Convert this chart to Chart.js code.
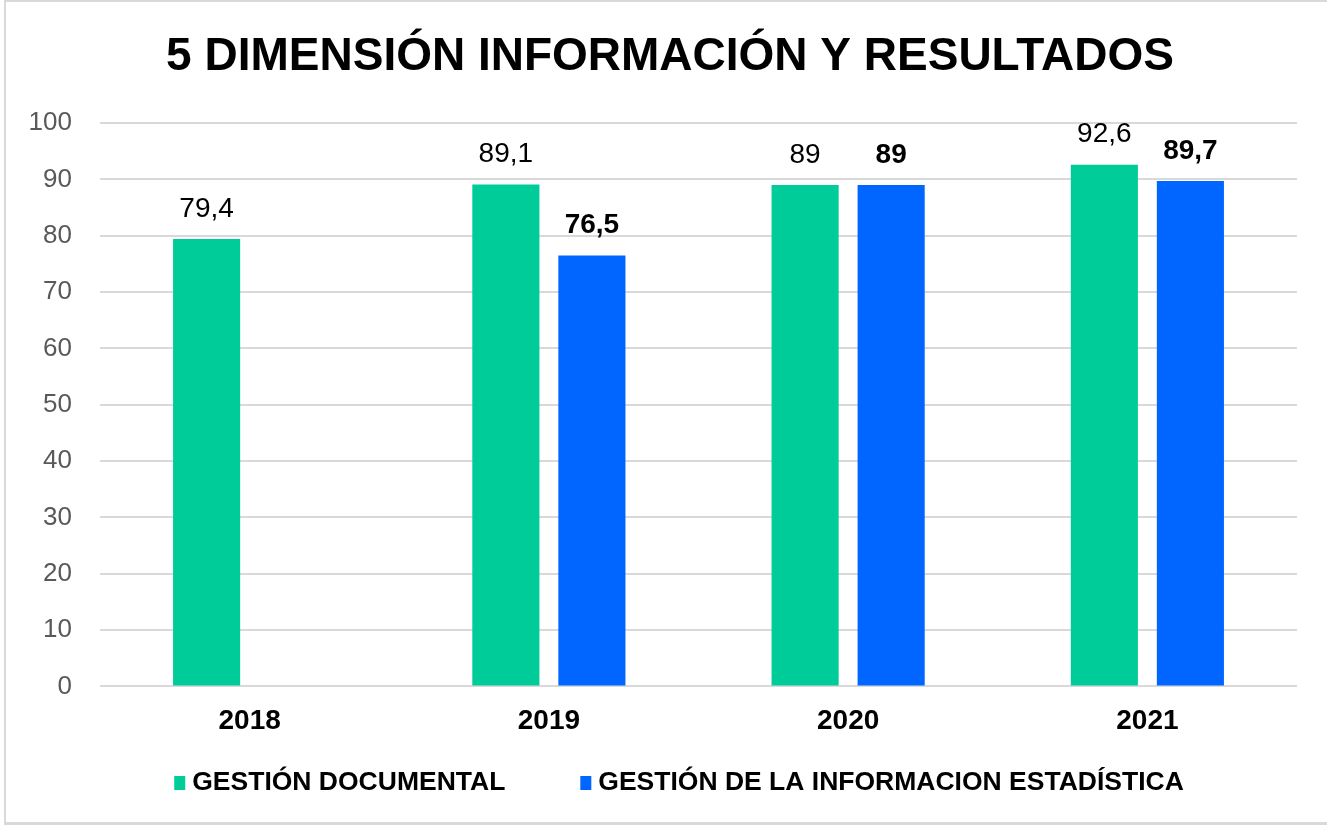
<!DOCTYPE html>
<html>
<head>
<meta charset="utf-8">
<script src="https://cdn.jsdelivr.net/npm/chart.js@4"></script>
<style>
  html, body { margin: 0; padding: 0; background: #fff; }
  #wrap { position: relative; width: 1327px; height: 825px; }
  #frame {
    position: absolute; left: 4px; top: 0; width: 1330px; height: 820px;
    border-top: 2px solid #d9d9d9; border-left: 2px solid #d9d9d9; border-bottom: 3px solid #d9d9d9;
    pointer-events: none;
  }
</style>
</head>
<body>
<div id="wrap">
  <canvas id="chart" width="1327" height="825"></canvas>
  <div id="frame"></div>
</div>
<script>
const years = ['2018', '2019', '2020', '2021']
const gestionDocumental = [79.4, 89.1, 89, 92.6]
const gestionEstadistica = [null, 76.5, 89, 89.7]
const yTicks = [0, 10, 20, 30, 40, 50, 60, 70, 80, 90, 100]

const TITLE = '5 DIMENSIÓN INFORMACIÓN Y RESULTADOS'
const FONT = "'Liberation Sans', Arial, sans-serif"
const PAD = { top: 123, left: 10, right: 30, bottom: 77 }

// etiquetas de valor encima de cada barra
const valueLabels = {
  id: 'valueLabels',
  afterDatasetsDraw(chart) {
    const ctx = chart.ctx
    chart.data.datasets.forEach((ds, i) => {
      const meta = chart.getDatasetMeta(i)
      meta.data.forEach((bar, j) => {
        const v = ds.data[j]
        if (v == null) return
        ctx.save()
        ctx.font = (i === 1 ? 'bold ' : '') + '28px ' + FONT
        ctx.fillStyle = '#000'
        ctx.textAlign = 'center'
        ctx.textBaseline = 'bottom'
        ctx.fillText(String(v).replace('.', ','), bar.x, bar.y - 16)
        ctx.restore()
      })
    })
  },
}

// título y leyenda dibujados a mano
const titleAndLegend = {
  id: 'titleAndLegend',
  afterDraw(chart) {
    const ctx = chart.ctx
    const mid = 670
    ctx.save()
    ctx.fillStyle = '#000'
    ctx.font = 'bold 46px ' + FONT
    ctx.textAlign = 'center'
    ctx.textBaseline = 'middle'
    ctx.fillText(TITLE, mid, 57)

    const ds = chart.data.datasets
    ctx.font = 'bold 26.5px ' + FONT
    ctx.textAlign = 'left'
    const box = 11, gap = 7, spacing = 75
    const widths = ds.map(d => ctx.measureText(d.label).width)
    const total = widths.reduce((a, w) => a + box + gap + w, 0) + spacing * (ds.length - 1)
    let x = mid - total / 2 + 9
    const y = 783
    ds.forEach((d, i) => {
      ctx.fillStyle = d.backgroundColor
      ctx.fillRect(x, y - 7, box, 14)
      ctx.fillStyle = '#000'
      ctx.fillText(d.label, x + box + gap, y)
      x += box + gap + widths[i] + spacing
    })
    ctx.restore()
  },
}

new Chart(document.getElementById('chart'), {
  type: 'bar',
  data: {
    labels: years,
    datasets: [
      {
        label: 'GESTIÓN DOCUMENTAL',
        data: gestionDocumental,
        backgroundColor: '#00cc99',
        categoryPercentage: 0.575,
        barPercentage: 0.78,
      },
      {
        label: 'GESTIÓN DE LA INFORMACION ESTADÍSTICA',
        data: gestionEstadistica,
        backgroundColor: '#0066ff',
        categoryPercentage: 0.575,
        barPercentage: 0.78,
      },
    ],
  },
  options: {
    responsive: false,
    animation: false,
    layout: { padding: PAD },
    scales: {
      x: {
        grid: { display: false },
        border: { display: false },
        ticks: { color: '#000', font: { family: FONT, size: 28, weight: 'bold' }, padding: 10 },
      },
      y: {
        min: 0,
        max: 100,
        afterBuildTicks(axis) { axis.ticks = yTicks.map(v => ({ value: v })) },
        afterFit(axis) { axis.width = 90 },
        grid: { color: '#d9d9d9', lineWidth: 2, drawTicks: false },
        border: { display: false },
        ticks: { color: '#595959', font: { family: FONT, size: 26 }, padding: 28 },
      },
    },
    plugins: {
      title: { display: false },
      legend: { display: false },
      tooltip: { enabled: false },
    },
  },
  plugins: [valueLabels, titleAndLegend],
})
</script>
</body>
</html>
